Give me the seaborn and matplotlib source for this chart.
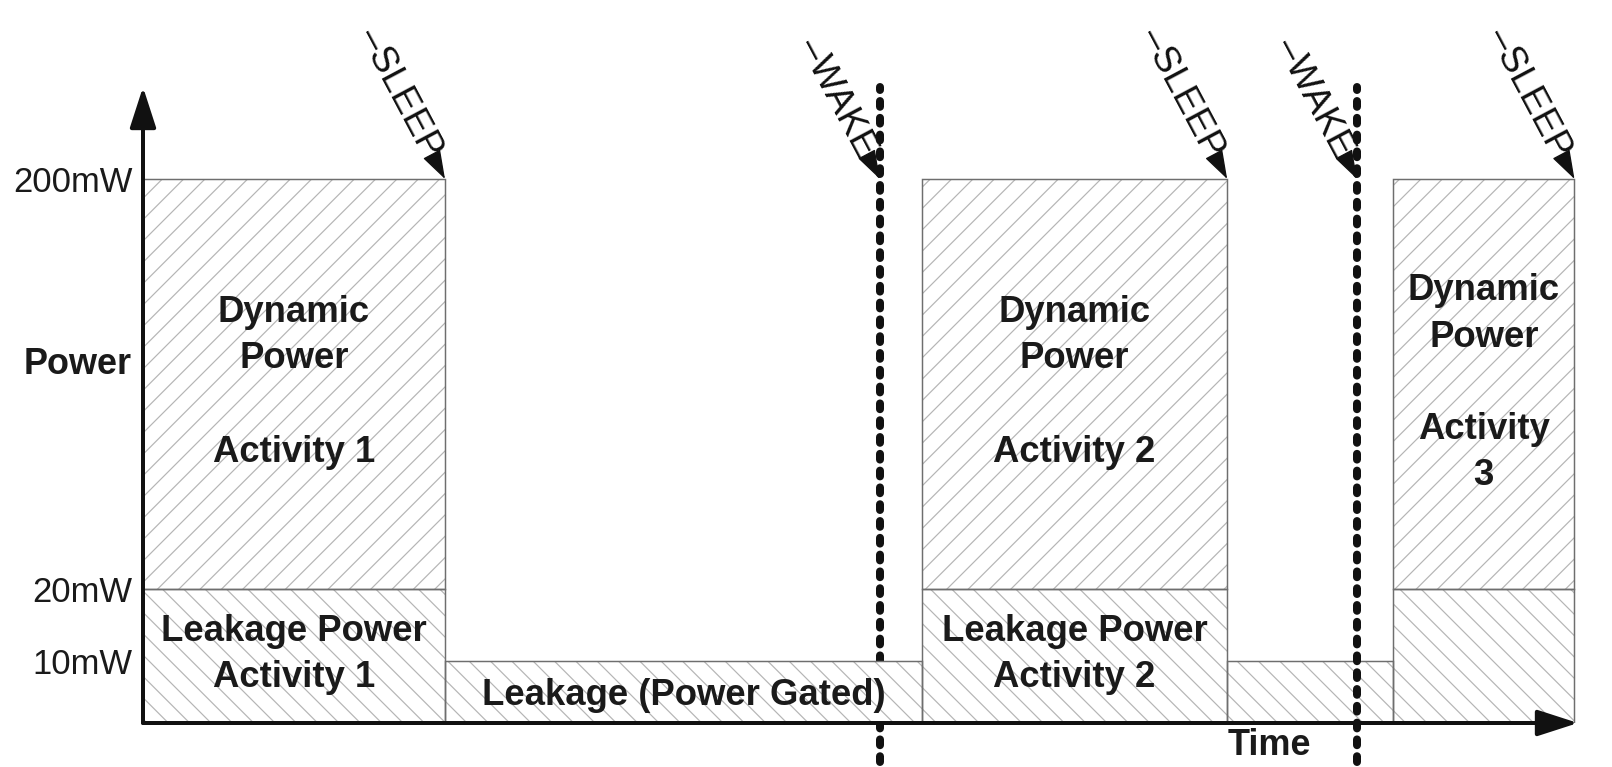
import numpy as np
import matplotlib
matplotlib.use("Agg")
import matplotlib.pyplot as plt
import matplotlib.transforms as mtransforms
import seaborn as sns

# ---------------- data ----------------
phase_names = ["Activity 1", "Power Gated", "Activity 2", "Power Gated", "Activity 3"]
phase_start = [0.0, 10.0, 25.8, 35.9, 41.4]          # time units
phase_duration = [10.0, 15.8, 10.1, 5.5, 6.0]
leakage_mw = [20, 10, 20, 10, 20]
dynamic_mw = [180, 0, 180, 0, 180]                    # stacked on leakage -> 200 mW

sleep_times = [10.0, 35.9, 47.4]
wake_times = [24.4, 40.2]
wake_line_on_top = [False, True]

ytick_values = [10, 20, 200]
ytick_labels = ["10mW", "20mW", "200mW"]

dynamic_labels = ["Dynamic\nPower", None, "Dynamic\nPower", None, "Dynamic\nPower"]
activity_labels = ["Activity 1", None, "Activity 2", None, "Activity\n3"]
leakage_labels = ["Leakage Power\nActivity 1", "Leakage (Power Gated)",
                  "Leakage Power\nActivity 2", None, None]

# ---------------- style ----------------
sns.set_theme(style="white")
plt.rcParams["font.family"] = ["Liberation Sans", "DejaVu Sans"]
plt.rcParams["hatch.linewidth"] = 0.45

DPI = 192
fig = plt.figure(figsize=(1612 / DPI, 767 / DPI), dpi=DPI)
ax = fig.add_axes([143 / 1612, 44 / 767, 1435 / 1612, 636 / 767])

# schematic (non-linear) power axis
_vals = np.array([0.0, 10.0, 20.0, 200.0])
_pos = np.array([0.0, 62.0, 134.0, 544.0])
_hi = (_pos[-1] - _pos[-2]) / (_vals[-1] - _vals[-2])
_lo = _pos[1] / _vals[1]


def fwd(v):
    v = np.asarray(v, dtype=float)
    out = np.interp(v, _vals, _pos)
    out = np.where(v > _vals[-1], _pos[-1] + (v - _vals[-1]) * _hi, out)
    out = np.where(v < 0, v * _lo, out)
    return out


def inv(p):
    p = np.asarray(p, dtype=float)
    out = np.interp(p, _pos, _vals)
    out = np.where(p > _pos[-1], _vals[-1] + (p - _pos[-1]) / _hi, out)
    out = np.where(p < 0, p / _lo, out)
    return out


ax.set_yscale("function", functions=(fwd, inv))
ax.set_xlim(0, 1435 / 30.2)
ax.set_ylim(0, float(inv(636.0)))

HATCH_C = "#b5b5b5"
EDGE_C = "#6e6e6e"

starts = np.array(phase_start)
durs = np.array(phase_duration)
leak = np.array(leakage_mw)
dyn = np.array(dynamic_mw)
mask = dyn > 0

# hatch layers
ax.bar(starts, leak, width=durs, align="edge", color="white",
       edgecolor=HATCH_C, hatch="\\\\\\", linewidth=0, zorder=1)
ax.bar(starts[mask], dyn[mask], bottom=leak[mask], width=durs[mask], align="edge",
       color="white", edgecolor=HATCH_C, hatch="///", linewidth=0, zorder=1)
# outlines
ax.bar(starts, leak, width=durs, align="edge", fill=False,
       edgecolor=EDGE_C, linewidth=0.55, zorder=2)
ax.bar(starts[mask], dyn[mask], bottom=leak[mask], width=durs[mask], align="edge",
       fill=False, edgecolor=EDGE_C, linewidth=0.55, zorder=2)

sns.despine(ax=ax, left=True, bottom=True)
ax.set_yticks(ytick_values)
ax.set_yticklabels(ytick_labels)
ax.set_xticks([])
ax.tick_params(axis="y", length=0, pad=4, labelsize=13, labelcolor="#1a1a1a")
ax.grid(False)

# axis arrows
arrow_kw = dict(arrowstyle="-|>,head_length=0.65,head_width=0.21", lw=1.5,
                color="#111111", mutation_scale=20, shrinkA=0, shrinkB=0)
ax.annotate("", xy=(0, 1), xytext=(0, 0), xycoords="axes fraction",
            arrowprops=arrow_kw, annotation_clip=False, zorder=6)
ax.annotate("", xy=(1, 0), xytext=(0, 0), xycoords="axes fraction",
            arrowprops=arrow_kw, annotation_clip=False, zorder=6)

ax.set_ylabel("Power", rotation=0, ha="right", va="center", fontsize=13.5,
              fontweight="bold", color="#1a1a1a")
ax.yaxis.set_label_coords(-0.0077, 0.563)
ax.set_xlabel("Time", fontsize=13.5, fontweight="bold", color="#1a1a1a")
ax.xaxis.set_label_coords(0.785, -0.035)
ax.xaxis.label.set_va("center")

# text in bars
blend = mtransforms.blended_transform_factory(ax.transData, ax.transAxes)
txt_kw = dict(ha="center", va="center", fontsize=13.7, fontweight="bold",
              color="#1a1a1a", transform=blend, zorder=5, linespacing=1.42)
for i in range(len(phase_names)):
    cx = phase_start[i] + phase_duration[i] / 2
    last = i == len(phase_names) - 1
    if dynamic_labels[i]:
        ax.text(cx, 0.643 if last else 0.609, dynamic_labels[i], **txt_kw)
    if activity_labels[i]:
        ax.text(cx, 0.425 if last else 0.426, activity_labels[i], **txt_kw)
    if leakage_labels[i]:
        y = 0.044 if "Gated" in leakage_labels[i] else 0.108
        ax.text(cx, y, leakage_labels[i], **txt_kw)

# wake dotted lines
for t, top in zip(wake_times, wake_line_on_top):
    ax.plot([t, t], [-0.062, 1.0], transform=blend, clip_on=False, color="#111111",
            lw=3.0, linestyle=(0, (0.72, 1.38)), dash_capstyle="round",
            zorder=7 if top else 0.5)

# SLEEP / WAKE markers
theta = np.deg2rad(62)
L = 9.6
D = 10.0
events = [(t, "\u2013SLEEP") for t in sleep_times] + [(t, "\u2013WAKE") for t in wake_times]
for t, lab in events:
    ax.annotate("", xy=(t, 200), xytext=(-L * np.cos(theta), L * np.sin(theta)),
                textcoords="offset points",
                arrowprops=dict(arrowstyle="-|>,head_length=0.96,head_width=0.32",
                                lw=0.5, color="#111111", mutation_scale=10,
                                shrinkA=0, shrinkB=0),
                annotation_clip=False, zorder=8)
    ax.annotate(lab, xy=(t, 200), xytext=(-D * np.cos(theta), D * np.sin(theta)),
                textcoords="offset points", rotation=-62, rotation_mode="anchor",
                ha="right", va="center", fontsize=14, color="#111111",
                annotation_clip=False, zorder=8)

fig.savefig("out.png", dpi=DPI, facecolor="white")
